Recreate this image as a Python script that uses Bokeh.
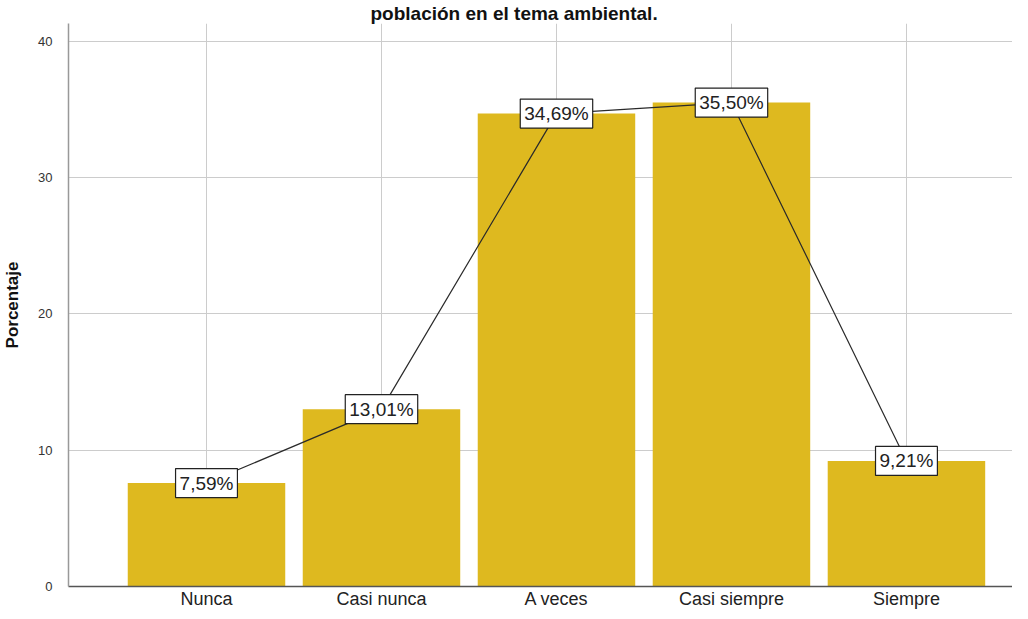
from bokeh.plotting import figure
from bokeh.models import ColumnDataSource, FixedTicker, Range1d, Title
from bokeh.core.properties import value
from bokeh.embed import file_html
from bokeh.resources import INLINE

categories = ["Nunca", "Casi nunca", "A veces", "Casi siempre", "Siempre"]
values = [7.59, 13.01, 34.69, 35.50, 9.21]
labels = ["7,59%", "13,01%", "34,69%", "35,50%", "9,21%"]
yticks = [0, 10, 20, 30, 40]

xs = list(range(1, len(categories) + 1))
src = ColumnDataSource(dict(x=xs, top=values, lab=labels))

p = figure(width=1012, height=611, output_backend="svg", toolbar_location=None,
           x_range=Range1d(0.2114, 5.606), y_range=Range1d(0, 41.3),
           min_border_left=68, min_border_right=0, min_border_bottom=24, min_border_top=0)
p.title = Title(text="población en el tema ambiental.", text_font="Liberation Sans",
                text_font_size="19px", text_font_style="bold", text_color="#111111",
                align="left", offset=302, standoff=0)
p.outline_line_color = None
p.background_fill_color = "white"

p.vbar(x="x", top="top", width=0.9, bottom=0, source=src,
       fill_color="#DEB91F", line_color=None)
p.line(x="x", y="top", source=src, line_color="#2a2a2a", line_width=1.2)

p.text(x="x", y="top", text="lab", source=src, text_align="center",
       text_baseline="middle", text_font=value("Liberation Sans"),
       text_font_size="19px", text_color="#222222",
       background_fill_color="white", border_line_color="#222222",
       border_line_width=1.2, padding=4)

p.xaxis.ticker = FixedTicker(ticks=xs)
p.xaxis.major_label_overrides = {i: c for i, c in zip(xs, categories)}
p.xaxis.major_label_text_font = "Liberation Sans"
p.xaxis.major_label_text_font_size = "18px"
p.xaxis.major_label_text_color = "#222222"
p.xaxis.major_label_standoff = 2
p.xaxis.axis_line_color = "#555555"
p.xaxis.axis_line_width = 1.5
p.xaxis.major_tick_line_color = None
p.xaxis.minor_tick_line_color = None
p.xaxis.major_tick_out = 0
p.xaxis.major_tick_in = 0

p.yaxis.ticker = FixedTicker(ticks=yticks)
p.yaxis.major_label_text_font = "Liberation Sans"
p.yaxis.major_label_text_font_size = "13px"
p.yaxis.major_label_text_color = "#333333"
p.yaxis.major_label_standoff = 10
p.yaxis.axis_line_color = "#999999"
p.yaxis.axis_line_width = 1.5
p.yaxis.major_tick_line_color = None
p.yaxis.minor_tick_line_color = None
p.yaxis.axis_label = "Porcentaje"
p.yaxis.axis_label_text_font = "Liberation Sans"
p.yaxis.axis_label_text_font_size = "17px"
p.yaxis.axis_label_text_font_style = "bold"
p.yaxis.axis_label_text_color = "#111111"
p.yaxis.axis_label_standoff = 13

p.xgrid.grid_line_color = "#cccccc"
p.ygrid.grid_line_color = "#cccccc"
p.xgrid.level = "underlay"
p.ygrid.level = "underlay"

open("out.html", "w").write(file_html(p, INLINE))
